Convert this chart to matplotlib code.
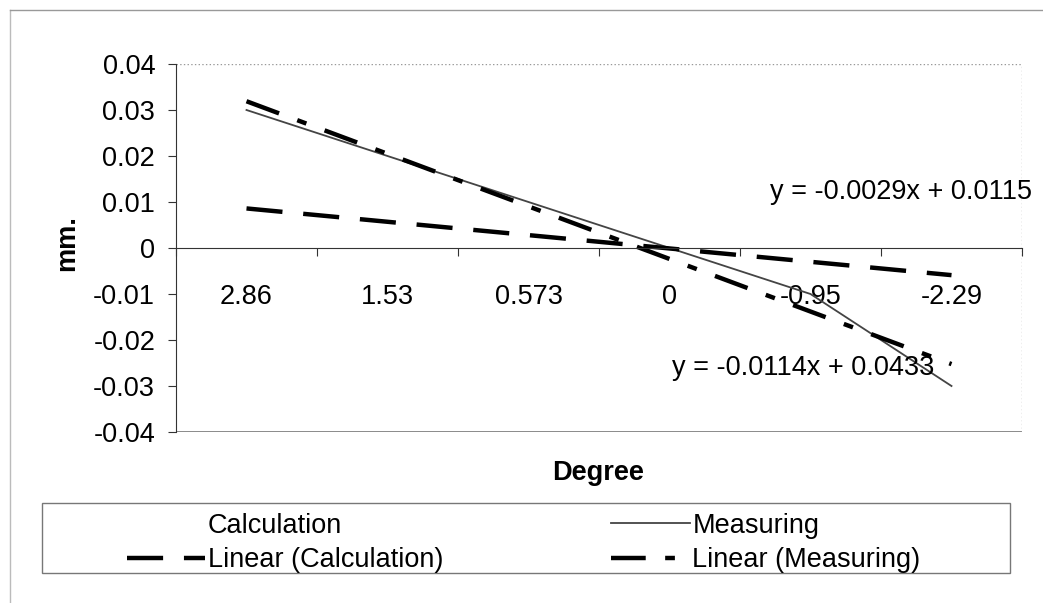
import numpy as np
import matplotlib.pyplot as plt
from matplotlib.lines import Line2D
from matplotlib.patches import Rectangle

plt.rcParams['font.family'] = ['Liberation Sans', 'DejaVu Sans']
plt.rcParams['lines.scale_dashes'] = False

# data
degree = ["2.86", "1.53", "0.573", "0", "-0.95", "-2.29"]
calculation = [0.0091, 0.0051, 0.0021, 0.0006, -0.0024, -0.0064]
measuring = [0.03, 0.02, 0.01, 0.0, -0.01, -0.03]
eq_calc = "y = -0.0029x + 0.0115"
eq_meas = "y = -0.0114x + 0.0433"

x = np.arange(1, len(degree) + 1)
fs = 19.5

fig = plt.figure(figsize=(10.43, 6.03), dpi=100)
ax = fig.add_axes([176/1043, 1-432/603, (1022-176)/1043, (432-64)/603])

# Calculation series is not visible in the picture (white line)
ax.plot(x, calculation, color='white', lw=1, alpha=0, label='Calculation')
ax.plot(x, measuring, color='#444444', lw=1.3, label='Measuring')

# linear trend lines
pc = np.polyfit(x, calculation, 1)
pm = np.polyfit(x, measuring, 1)
ax.plot(x, np.polyval(pc, x), color='black', lw=3.2,
        dashes=(26, 15), label='Linear (Calculation)')
ax.plot(x, np.polyval(pm, x), color='black', lw=3.2,
        dashes=(25, 14, 7, 14), label='Linear (Measuring)')

ax.set_xlim(0.5, 6.5)
ax.set_ylim(-0.04, 0.04)
ax.set_yticks(np.arange(-0.04, 0.041, 0.01))
ax.set_yticklabels(["-0.04", "-0.03", "-0.02", "-0.01", "0",
                    "0.01", "0.02", "0.03", "0.04"])

# x axis crosses at 0, category labels between the tick marks
ax.spines['bottom'].set_position(('data', 0))
ax.spines['bottom'].set_color('#333333')
ax.spines['left'].set_color('#333333')
ax.spines['top'].set_visible(False)
ax.spines['right'].set_visible(False)
ax.set_xticks(np.arange(0.5, 7, 1))
ax.set_xticklabels([])
ax.set_xticks(x, degree, minor=True)
ax.tick_params(axis='x', which='major', direction='out', length=6, color='#333333')
ax.tick_params(axis='x', which='minor', length=0, pad=26, labelsize=fs)
ax.tick_params(axis='y', direction='out', length=6, pad=9, labelsize=fs, color='#333333')

# plot area border
ax.axhline(0.04, color='#999999', lw=1, ls=':')
ax.axhline(-0.04, color='#777777', lw=1.2)
ax.axvline(6.5, color='#aaaaaa', lw=1, ls=':')

ax.text(4.71, 0.0121, eq_calc, fontsize=fs, va='center')
ax.text(4.02, -0.0261, eq_meas, fontsize=fs, va='center')

fig.text(67/1043, 1-243/603, "mm.", rotation=90, ha='center', va='center',
         fontsize=fs, fontweight='bold')
fig.text(598/1043, 1-473/603, "Degree", ha='center', va='center',
         fontsize=fs, fontweight='bold')

# legend box
fig.add_artist(Rectangle((42/1043, 1-573/603), (1010-42)/1043, (573-503)/603,
                         transform=fig.transFigure, fill=False,
                         edgecolor='#777777', lw=1))
handles, labels = ax.get_legend_handles_labels()
order = [0, 2, 1, 3]
fig.legend([handles[i] for i in order], [labels[i] for i in order],
           ncol=2, frameon=False, fontsize=fs, loc='center left',
           bbox_to_anchor=(113/1043, 1-543/603), handlelength=2.9,
           handletextpad=0.1, columnspacing=6.2, labelspacing=0.3,
           borderpad=0)

# outer chart frame
fig.add_artist(Line2D([10/1043, 10/1043], [0, 1-10/603], transform=fig.transFigure,
                      color='#bbbbbb', lw=1))
fig.add_artist(Line2D([10/1043, 1], [1-10/603, 1-10/603], transform=fig.transFigure,
                      color='#999999', lw=1))

fig.savefig('out.png', dpi=100)
